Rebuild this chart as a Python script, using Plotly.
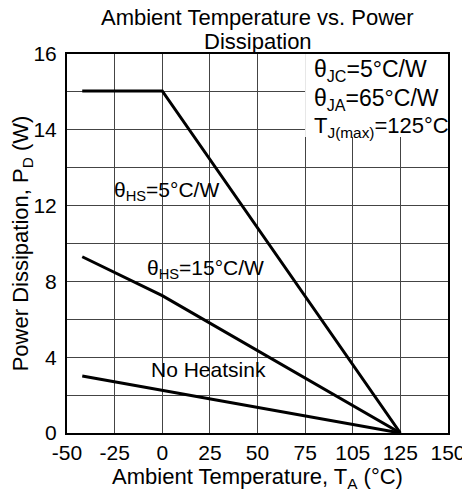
import plotly.graph_objects as go

# Data (y in axis units: bottom=0, top=16, grid every 1.6)
temp_hs5 = [-42, 0, 125]
pd_hs5 = [14.44, 14.44, 0]
temp_hs15 = [-42, 0, 125]
pd_hs15 = [7.44, 5.8, 0]
temp_nohs = [-42, 125]
pd_nohs = [2.41, 0]

x_tickvals = [-50, -25, 0, 25, 50, 75, 100, 125, 150]
x_ticktext = ["-50", "-25", "0", "25", "50", "75", "105", "125", "150"]
y_tickvals = [0, 3.2, 6.4, 9.6, 12.8, 16]
y_ticktext = ["0", "4", "8", "12", "14", "16"]

title_lines = ["Ambient Temperature vs. Power", "Dissipation"]

FONT = "Liberation Sans, Arial, sans-serif"
fig = go.Figure()
for xs, ys in [(temp_hs5, pd_hs5), (temp_hs15, pd_hs15), (temp_nohs, pd_nohs)]:
    fig.add_trace(go.Scatter(x=xs, y=ys, mode="lines",
                             line=dict(color="black", width=3), showlegend=False,
                             hoverinfo="skip"))

fig.add_shape(type="rect", xref="x", yref="y", x0=75, x1=150, y0=12.5, y1=16,
              fillcolor="white", line=dict(width=0), layer="between")

ann = [
    ("θ<sub>HS</sub>=5°C/W", -26.4, 10.2, 21),
    ("θ<sub>HS</sub>=15°C/W", -9, 6.92, 21),
    ("No Heatsink", -6.7, 2.66, 21),
    ("θ<sub>JC</sub>=5°C/W", 78.5, 15.32, 23),
    ("θ<sub>JA</sub>=65°C/W", 78.5, 14.06, 23),
    ("T<sub>J(max)</sub>=125°C", 78.5, 12.92, 22),
]
for t, x, y, s in ann:
    fig.add_annotation(text=t, x=x, y=y, xref="x", yref="y", xanchor="left",
                       yanchor="middle", showarrow=False,
                       font=dict(family=FONT, size=s, color="black"))

for line, ypos in zip(title_lines, [1.095, 1.034]):
    fig.add_annotation(text=line, xref="paper", yref="paper", x=0.5, y=ypos,
                       xanchor="center", yanchor="middle", showarrow=False,
                       font=dict(family=FONT, size=22, color="black"))

# page body adds an 8px offset; figure is sized to fit the window
fig.update_layout(
    width=462, height=492,
    margin=dict(l=59, r=22, t=46, b=67),
    paper_bgcolor="white", plot_bgcolor="white",
    font=dict(family=FONT, color="black"),
)
fig.update_xaxes(range=[-50, 150], tickvals=x_tickvals, ticktext=x_ticktext,
                 automargin=False,
                 showgrid=True, gridcolor="#444", gridwidth=1,
                 showline=True, linecolor="black", linewidth=2, mirror=True,
                 zeroline=False, ticks="", ticklabelstandoff=0,
                 tickfont=dict(family=FONT, size=21, color="black"),
                 title=dict(text="Ambient Temperature, T<sub>A</sub> (°C)",
                            font=dict(family=FONT, size=22, color="black"),
                            standoff=3))
fig.update_yaxes(range=[0, 16], tickvals=y_tickvals, ticktext=y_ticktext,
                 automargin=False,
                 showgrid=False,
                 showline=True, linecolor="black", linewidth=2, mirror=True,
                 zeroline=False, ticks="", ticklabelstandoff=4,
                 tickfont=dict(family=FONT, size=21, color="black"),
                 title=dict(text="Power Dissipation, P<sub>D</sub> (W)",
                            font=dict(family=FONT, size=22, color="black"),
                            standoff=1))
fig.update_yaxes(minor=dict(tickvals=[i * 1.6 for i in range(1, 10)], showgrid=True,
                            gridcolor="#444", gridwidth=1, ticks=""))

fig.write_html("out.html")
